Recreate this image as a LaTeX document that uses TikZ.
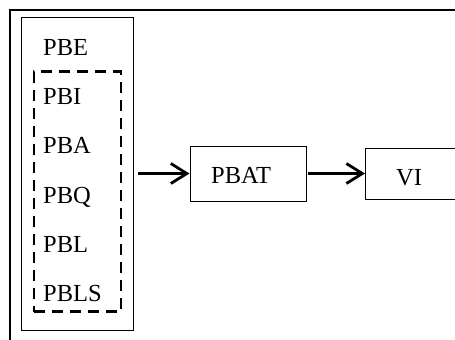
\documentclass[tikz,border=0pt]{standalone}
\usepackage{fontspec}
\setmainfont{Liberation Serif}
\usetikzlibrary{arrows.meta}
\begin{document}
\begin{tikzpicture}[x=1bp,y=-1bp,
  box/.style={draw, line width=1bp, inner sep=0, rectangle},
  dbox/.style={draw, line width=2.2bp, dash pattern=on 11bp off 7bp, inner sep=0, rectangle},
  lbl/.style={font=\fontsize{24.5bp}{29bp}\selectfont, inner sep=0, anchor=base west},
  arr/.style={line width=2.8bp, -{Straight Barb[length=16bp,width=20bp,line width=2.8bp]}},
]
\useasboundingbox (0,0) rectangle (455,339);
\draw[line width=2bp] (10,345) -- (10,9.5) -- (465,9.5);
\node[box, minimum width=111bp, minimum height=313bp] (pbe) at (77.5,173.5) {};
\node[dbox, minimum width=87bp, minimum height=240bp] (grp) at (77.5,191.5) {};
\node[lbl] (tpbe) at (43,55) {PBE};
\node[lbl] (tpbi) at (43,104) {PBI};
\node[lbl] (tpba) at (43,153.5) {PBA};
\node[lbl] (tpbq) at (43,203) {PBQ};
\node[lbl] (tpbl) at (43,252) {PBL};
\node[lbl] (tpbls) at (43,301) {PBLS};
\node[box, minimum width=116bp, minimum height=55bp] (pbat) at (248,173.5) {};
\node[lbl] (tpbat) at (211,183) {PBAT};
\node[box, minimum width=120bp, minimum height=51bp, anchor=west] (vi) at (365,173.5) {};
\node[lbl] (tvi) at (396,185) {VI};
\draw[arr] ([xshift=4bp]pbe.east) -- (pbat.west);
\draw[arr] ([xshift=1bp]pbat.east) -- (vi.west);
\end{tikzpicture}
\end{document}
